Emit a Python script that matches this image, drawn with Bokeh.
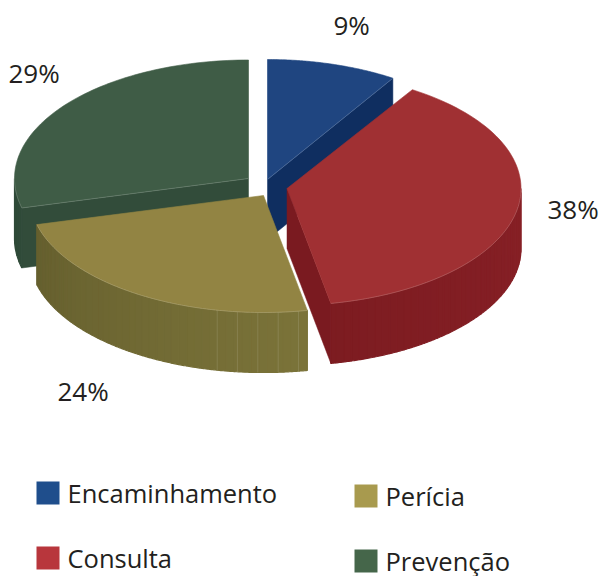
import math
from bokeh.plotting import figure
from bokeh.models import Range1d
from bokeh.core.properties import value
from bokeh.embed import file_html
from bokeh.resources import INLINE

categories = ["Encaminhamento", "Consulta", "Perícia", "Prevenção"]
values = [9, 38, 24, 29]
pct_labels = ["9%", "38%", "24%", "29%"]

top_colors = ["#1f4580", "#a03033", "#928443", "#3f5c46"]
cut_colors = ["#0f2e60", "#7a1a20", "#6a6330", "#324c3a"]
wall_from = ["#0f2e60", "#872026", "#7b7339", "#2f4a38"]
wall_to = ["#0f2e60", "#7d1c21", "#655f2e", "#2f4a38"]
legend_colors = ["#1f4e8c", "#b8363c", "#a89a4e", "#45664a"]

centers = [(267, 179), (286.5, 188), (263, 195), (248, 178)]
RX = 234
RYS = [120, 117, 117, 118.5]
DEPTH = 60
FONT = "Open Sans"
TEXT = "#231f20"

p = figure(width=601, height=576, output_backend="svg", toolbar_location=None,
           x_range=Range1d(0, 601), y_range=Range1d(576, 0), min_border=0)
p.axis.visible = False
p.grid.visible = False
p.outline_line_color = None


def rim(i, t):
    c = centers[i]
    return c[0] + RX * math.sin(math.radians(t)), c[1] - RYS[i] * math.cos(math.radians(t))


def mix(a, b, f):
    ca = [int(a[i:i + 2], 16) for i in (1, 3, 5)]
    cb = [int(b[i:i + 2], 16) for i in (1, 3, 5)]
    return "#%02x%02x%02x" % tuple(round(x + (y - x) * f) for x, y in zip(ca, cb))


starts, acc = [], 0
for v in values:
    starts.append(acc)
    acc += v * 3.6
ends = [s + v * 3.6 for s, v in zip(starts, values)]


def arc(i, a, b, n=80):
    return [rim(i, a + (b - a) * k / n) for k in range(n + 1)]


def draw_top(i):
    pts = arc(i, starts[i], ends[i])
    xs = [centers[i][0]] + [q[0] for q in pts]
    ys = [centers[i][1]] + [q[1] for q in pts]
    p.patch(xs, ys, fill_color=top_colors[i], line_color=top_colors[i], line_width=0.6)


def draw_cut(i, t):
    c = centers[i]
    x, y = rim(i, t)
    p.patch([c[0], x, x, c[0]], [c[1], y, y + DEPTH, c[1] + DEPTH],
            fill_color=cut_colors[i], line_color=cut_colors[i], line_width=0.5)


def draw_wall(i, a, b, step=5.0, lines_until=None):
    t = a
    span = b - a
    while t < b - 1e-6:
        u = min(t + step, b)
        pts = arc(i, t, u, 6)
        xs = [q[0] for q in pts] + [q[0] for q in reversed(pts)]
        ys = [q[1] for q in pts] + [q[1] + DEPTH for q in reversed(pts)]
        col = mix(wall_from[i], wall_to[i], (t - a) / span)
        p.patch(xs, ys, fill_color=col, line_color=col, line_width=1.2)
        t = u
    if lines_until is not None:
        t = a + 2.2
        while t < lines_until:
            x, y = rim(i, t)
            p.line([x, x], [y, y + DEPTH], line_color="#ffffff", line_alpha=0.12, line_width=1)
            t += 5.0


def highlight(i, a, b):
    pts = arc(i, a, b)
    p.line([q[0] for q in pts], [q[1] for q in pts], line_color="#ffffff", line_alpha=0.22, line_width=0.8)


def highlight_cut(i, t):
    c = centers[i]
    x, y = rim(i, t)
    p.line([c[0], x], [c[1], y], line_color="#ffffff", line_alpha=0.2, line_width=0.8)


# Prevenção (back left)
draw_wall(3, starts[3], 270, step=3)
draw_cut(3, starts[3])
draw_top(3)
highlight(3, starts[3], 270)
highlight_cut(3, starts[3])
# Encaminhamento (back right)
draw_cut(0, ends[0])
draw_top(0)
highlight_cut(0, ends[0])
# Perícia (front left)
draw_wall(2, starts[2], ends[2], step=2.0, lines_until=195)
draw_top(2)
highlight(2, starts[2], ends[2])
# Consulta (front right)
draw_wall(1, 90, ends[1], step=2.0)
draw_cut(1, ends[1])
draw_top(1)
highlight(1, 90, ends[1])

# percentage labels
lab_x = [333, 547, 57, 8]
lab_y = [35, 219, 401, 83]
p.text(lab_x, lab_y, text=pct_labels, text_font=value(FONT), text_font_size="26px",
       text_color=TEXT, text_align="left", text_baseline="alphabetic", y_offset=-11)

# legend
leg_x = [36, 36, 354, 354]
leg_y = [481, 546, 484, 549]
SW = 23
p.quad(left=leg_x, right=[x + SW for x in leg_x], top=leg_y, bottom=[y + SW for y in leg_y],
       fill_color=legend_colors, line_color=None)
p.text([x + 31 for x in leg_x], [y + SW for y in leg_y], text=categories, text_font=value(FONT),
       text_font_size="25.5px", text_color=TEXT, text_align="left", text_baseline="alphabetic",
       y_offset=-12)

open("out.html", "w").write(file_html(p, INLINE))
